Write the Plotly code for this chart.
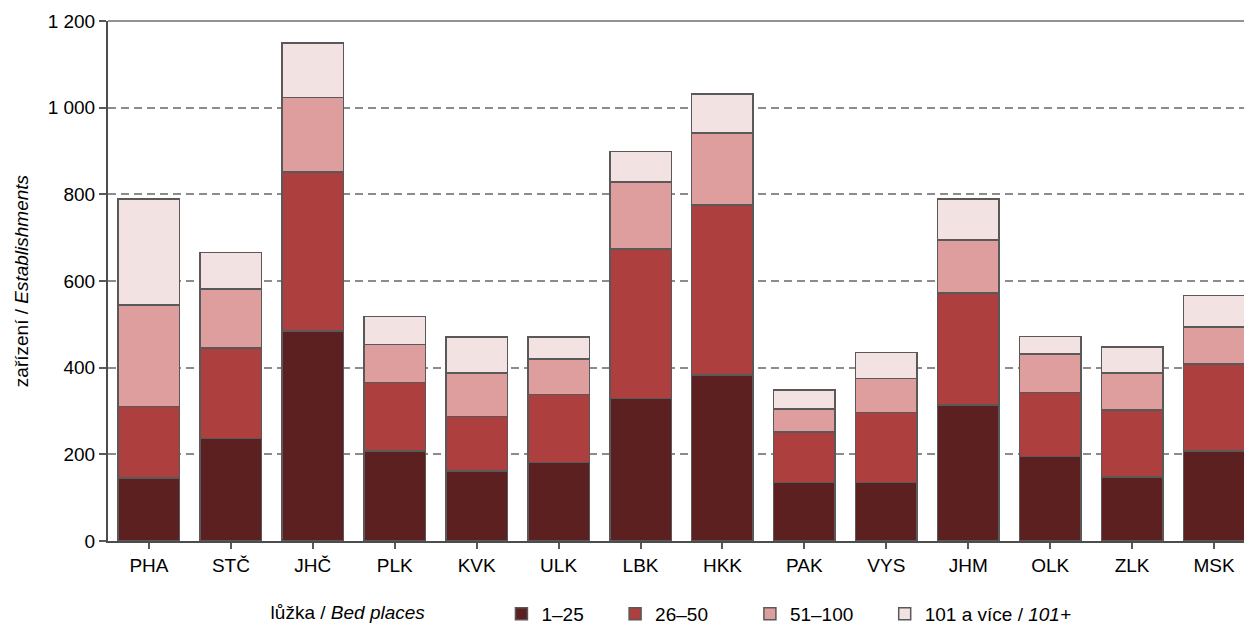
import plotly.graph_objects as go

regions = ["PHA", "STČ", "JHČ", "PLK", "KVK", "ULK", "LBK", "HKK", "PAK", "VYS", "JHM", "OLK", "ZLK", "MSK"]
beds_1_25 = [145, 237, 485, 208, 162, 181, 329, 383, 135, 135, 314, 195, 148, 208]
beds_26_50 = [165, 208, 367, 158, 125, 157, 345, 392, 116, 161, 258, 148, 154, 200]
beds_51_100 = [235, 137, 171, 87, 101, 82, 155, 166, 54, 79, 123, 88, 86, 86]
beds_101_plus = [244, 84, 126, 65, 83, 51, 70, 91, 43, 60, 94, 41, 60, 73]

series_names = ["1–25", "26–50", "51–100", "101 a více / <i>101+</i>"]
series_values = [beds_1_25, beds_26_50, beds_51_100, beds_101_plus]
series_colors = ["#5C2020", "#AD3F3F", "#DE9E9E", "#F2E2E2"]
name_padding = [5, 7, 5, 0]

y_tickvals = [0, 200, 400, 600, 800, 1000, 1200]
y_ticktext = ["0", "200", "400", "600", "800", "1 000", "1 200"]

FONT = "Liberation Sans, Arial, Helvetica, sans-serif"
FS = 19

fig = go.Figure()
for name, vals, col, pad in zip(series_names, series_values, series_colors, name_padding):
    fig.add_trace(go.Bar(
        x=list(range(len(regions))), y=vals, name=name + "\u00a0" * pad,
        marker=dict(color=col, line=dict(color="#595959", width=1.5)),
    ))

fig.update_layout(
    barmode="stack",
    bargap=0.25,
    width=1244, height=628,
    margin=dict(l=108, r=0, t=21, b=87, autoexpand=False),
    paper_bgcolor="white", plot_bgcolor="white",
    font=dict(family=FONT, size=FS, color="#000000"),
    showlegend=True,
    legend=dict(
        orientation="h", x=0.497, xanchor="center", y=-0.14, yanchor="middle",
        title=dict(text="lůžka / <i>Bed places</i>" + "\u00a0" * 13, side="left", font=dict(size=FS)),
        font=dict(size=FS), itemwidth=30, traceorder="normal",
    ),
)
fig.update_xaxes(
    range=[-0.5, 13.366],
    tickmode="array", tickvals=list(range(len(regions))), ticktext=regions,
    tickson="boundaries", ticks="outside", ticklen=6, tickwidth=1.5, tickcolor="#595959",
    showline=True, linecolor="#4d4d4d", linewidth=2, mirror=False,
    showgrid=False, zeroline=False,
    tickfont=dict(size=FS),
)
fig.update_yaxes(
    range=[0, 1200],
    tickmode="array", tickvals=y_tickvals, ticktext=y_ticktext,
    ticks="outside", ticklen=7, tickwidth=1.5, tickcolor="#595959",
    showline=True, linecolor="#4d4d4d", linewidth=2,
    showgrid=True, gridcolor="#8c8c8c", griddash="8px,5px", gridwidth=1.5,
    zeroline=False,
    title=dict(text="zařízení / <i>Establishments</i>", font=dict(size=FS), standoff=14),
    tickfont=dict(size=FS),
)

# top frame line
fig.add_shape(type="line", xref="paper", yref="paper", x0=0, x1=1, y0=1, y1=1,
              line=dict(color="#6e6e6e", width=1.5), layer="below")

fig.write_html("out.html", config={"displayModeBar": False},
               post_script="document.body.style.margin='0';document.body.style.overflow='hidden';")
